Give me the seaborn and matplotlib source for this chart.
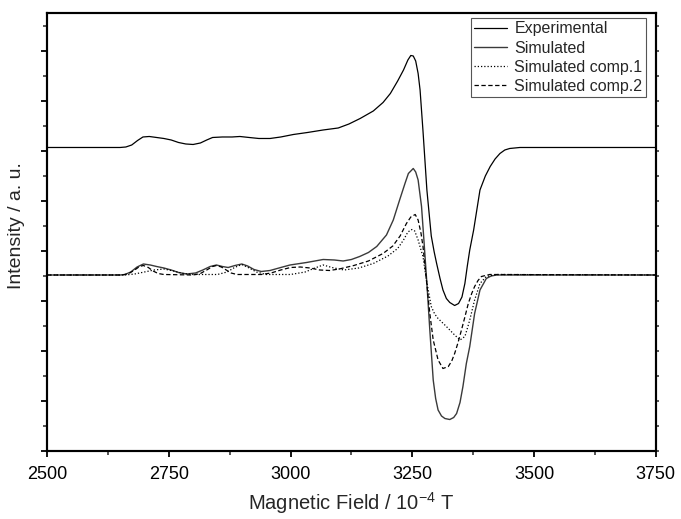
import matplotlib
matplotlib.use('Agg')
import matplotlib.pyplot as plt
import seaborn as sns
from matplotlib.ticker import MultipleLocator

# values (field in 10^-4 T, intensity in arbitrary units)
exp_field = [2500, 2560, 2620, 2650, 2662, 2674, 2686, 2697, 2710, 2725, 2740, 2755, 2770, 2785,
             2800, 2815, 2828, 2840, 2860, 2880, 2896, 2915, 2935, 2958, 2980, 3006, 3035, 3067,
             3098, 3120, 3143, 3170, 3190, 3205, 3220, 3232, 3241, 3247, 3252, 3257, 3262, 3266,
             3272, 3280, 3289, 3295, 3300, 3307, 3313, 3320, 3327, 3337, 3345, 3352, 3358, 3363,
             3368, 3376, 3389, 3400, 3410, 3420, 3430, 3440, 3450, 3471, 3550, 3650, 3750]
exp_int = [6.07, 6.07, 6.07, 6.07, 6.08, 6.12, 6.21, 6.28, 6.29, 6.27, 6.25, 6.22, 6.17, 6.14,
           6.13, 6.16, 6.22, 6.27, 6.28, 6.28, 6.29, 6.27, 6.25, 6.25, 6.28, 6.33, 6.37, 6.42,
           6.46, 6.54, 6.65, 6.80, 6.97, 7.15, 7.40, 7.62, 7.82, 7.91, 7.90, 7.80, 7.55, 7.22,
           6.40, 5.22, 4.30, 3.98, 3.75, 3.45, 3.22, 3.05, 2.97, 2.91, 2.95, 3.08, 3.35, 3.70,
           4.02, 4.42, 5.22, 5.50, 5.69, 5.84, 5.95, 6.02, 6.05, 6.07, 6.07, 6.07, 6.07]

sim_field = [2500, 2600, 2650, 2660, 2672, 2685, 2698, 2712, 2725, 2740, 2755, 2770, 2787, 2805,
             2820, 2835, 2848, 2860, 2872, 2886, 2900, 2912, 2925, 2940, 2958, 2980, 2999, 3033,
             3067, 3090, 3108, 3125, 3142, 3160, 3177, 3197, 3211, 3224, 3235, 3242, 3252, 3257,
             3262, 3269, 3274, 3280, 3286, 3293, 3298, 3303, 3310, 3317, 3327, 3335, 3341, 3348,
             3354, 3361, 3368, 3378, 3389, 3402, 3412, 3423, 3500, 3600, 3750]
sim_int = [3.52, 3.52, 3.52, 3.53, 3.58, 3.68, 3.74, 3.72, 3.69, 3.66, 3.62, 3.57, 3.54, 3.56,
           3.62, 3.69, 3.72, 3.69, 3.67, 3.71, 3.74, 3.70, 3.63, 3.59, 3.61, 3.67, 3.72, 3.77,
           3.83, 3.82, 3.80, 3.83, 3.89, 3.97, 4.09, 4.32, 4.62, 5.02, 5.35, 5.55, 5.65, 5.58,
           5.42, 4.89, 4.20, 3.35, 2.42, 1.42, 1.05, 0.82, 0.70, 0.65, 0.63, 0.67, 0.75, 0.97,
           1.29, 1.75, 2.09, 2.75, 3.22, 3.45, 3.50, 3.52, 3.52, 3.52, 3.52]

comp1_field = [2500, 2660, 2680, 2700, 2720, 2740, 2760, 2780, 2800, 2850, 2870, 2885, 2900, 2915,
               2930, 2950, 3000, 3030, 3050, 3067, 3085, 3110, 3140, 3170, 3200, 3220, 3232, 3241,
               3249, 3255, 3262, 3267, 3272, 3279, 3289, 3296, 3303, 3320, 3337, 3348, 3358, 3363,
               3368, 3378, 3389, 3402, 3423, 3750]
comp1_int = [3.52, 3.52, 3.54, 3.58, 3.62, 3.64, 3.60, 3.55, 3.53, 3.53, 3.58, 3.67, 3.73, 3.66,
             3.58, 3.53, 3.53, 3.58, 3.66, 3.72, 3.67, 3.62, 3.66, 3.75, 3.90, 4.05, 4.22, 4.38,
             4.43, 4.40, 4.22, 4.05, 3.89, 3.42, 2.89, 2.74, 2.65, 2.49, 2.32, 2.22, 2.29, 2.45,
             2.62, 3.02, 3.35, 3.49, 3.53, 3.52]

comp2_field = [2500, 2655, 2668, 2680, 2690, 2698, 2708, 2718, 2728, 2740, 2800, 2815, 2828, 2840,
               2848, 2858, 2868, 2878, 2890, 2940, 2960, 2980, 3000, 3020, 3040, 3060, 3080, 3100,
               3130, 3160, 3190, 3210, 3225, 3238, 3247, 3256, 3262, 3268, 3272, 3279, 3286, 3293,
               3303, 3313, 3324, 3331, 3337, 3344, 3351, 3358, 3365, 3372, 3378, 3385, 3392, 3409,
               3750]
comp2_int = [3.52, 3.52, 3.55, 3.62, 3.69, 3.71, 3.67, 3.60, 3.55, 3.53, 3.52, 3.55, 3.62, 3.69,
             3.71, 3.68, 3.62, 3.56, 3.53, 3.53, 3.56, 3.62, 3.67, 3.68, 3.66, 3.62, 3.61, 3.64,
             3.71, 3.80, 3.95, 4.10, 4.30, 4.55, 4.68, 4.73, 4.62, 4.35, 4.09, 3.42, 2.75, 2.22,
             1.82, 1.65, 1.69, 1.80, 1.95, 2.17, 2.42, 2.68, 2.95, 3.15, 3.29, 3.41, 3.49, 3.53,
             3.52]

sns.set_style('ticks')
plt.rcParams['font.family'] = ['Liberation Sans', 'DejaVu Sans']

fig = plt.figure(figsize=(6.81, 5.19), dpi=100)
ax = fig.add_axes([0.069, 0.131, 0.894, 0.844])

sns.lineplot(x=exp_field, y=exp_int, ax=ax, color='black', lw=0.9,
             label='Experimental', estimator=None, sort=False)
sns.lineplot(x=sim_field, y=sim_int, ax=ax, color='#3a3a3a', lw=1.0,
             label='Simulated', estimator=None, sort=False)
sns.lineplot(x=comp1_field, y=comp1_int, ax=ax, color='black', lw=0.9, linestyle=(0, (1, 1.6)),
             label='Simulated comp.1', estimator=None, sort=False)
sns.lineplot(x=comp2_field, y=comp2_int, ax=ax, color='black', lw=0.9, linestyle=(0, (3.5, 2)),
             label='Simulated comp.2', estimator=None, sort=False)

ax.set_xlim(2500, 3750)
ax.set_ylim(0, 8.76)
ax.xaxis.set_major_locator(MultipleLocator(250))
ax.xaxis.set_minor_locator(MultipleLocator(125))
ax.yaxis.set_major_locator(MultipleLocator(1))
ax.yaxis.set_minor_locator(MultipleLocator(0.5))
ax.tick_params(axis='both', which='major', direction='out', length=4.5, width=1.3,
               labelsize=13, pad=6, colors='black')
ax.tick_params(axis='both', which='minor', direction='out', length=3, width=1.1)
ax.tick_params(axis='y', labelleft=False)

# short ticks on the right side
ax2 = ax.twinx()
ax2.set_ylim(0, 8.76)
ax2.yaxis.set_major_locator(MultipleLocator(1))
ax2.yaxis.set_minor_locator(MultipleLocator(0.5))
ax2.tick_params(axis='y', which='both', direction='out', length=2, width=1.1, labelright=False)

for a in (ax, ax2):
    for s in a.spines.values():
        s.set_visible(True)
        s.set_linewidth(1.5)
        s.set_color('black')

ax.set_xlabel('Magnetic Field / 10$^{\\mathregular{-4}}$ T', fontsize=14.5, labelpad=5.5)
ax.set_ylabel('Intensity / a. u.', fontsize=14)
ax.yaxis.set_label_coords(-0.036, 0.515)

leg = ax.legend(loc='upper right', bbox_to_anchor=(0.9836, 0.988), borderaxespad=0,
                fontsize=11.5, handlelength=2.1, handletextpad=0.45, labelspacing=0.26,
                borderpad=0.2, frameon=True, fancybox=False, edgecolor='#555555',
                framealpha=1)
leg.get_frame().set_linewidth(0.8)

fig.savefig('out.png', dpi=100)
